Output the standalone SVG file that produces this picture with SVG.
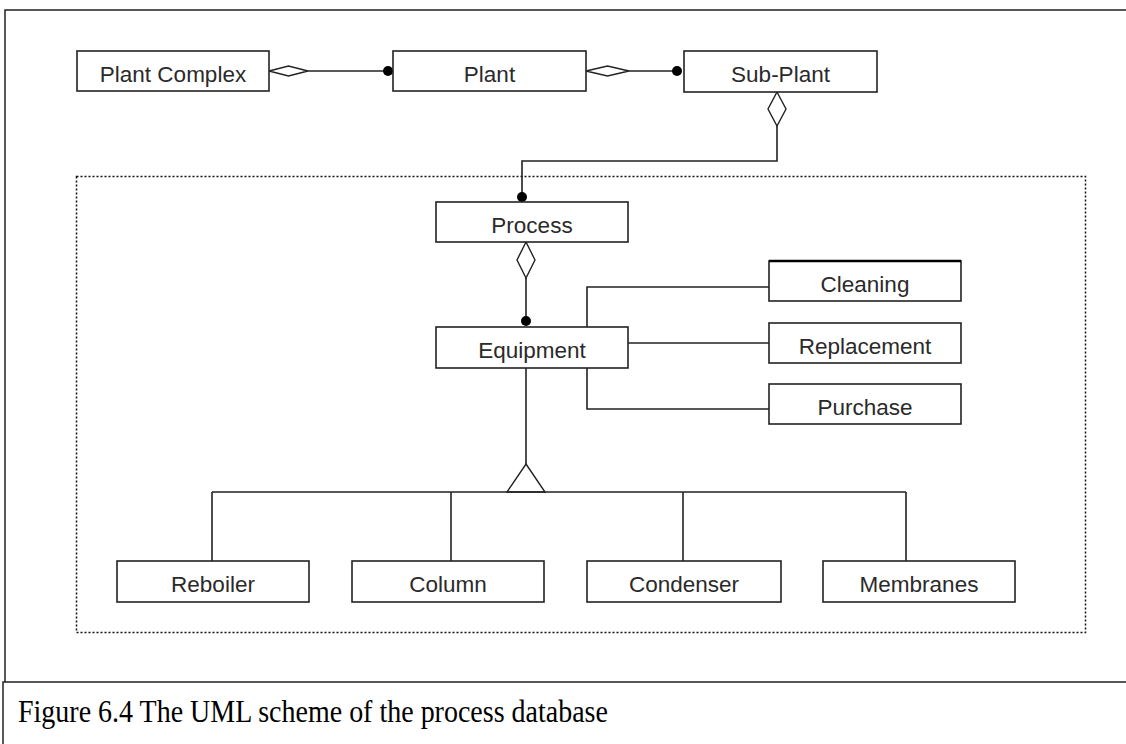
<svg xmlns="http://www.w3.org/2000/svg" width="1126" height="744" viewBox="0 0 1126 744">
  <style>
    .box { fill: #fff; stroke: #222; stroke-width: 1.6; }
    .lbl { font-family: "Liberation Sans", Arial, sans-serif; font-size: 22.5px; fill: #2a2a2a; text-anchor: middle; }
    .ln { fill: none; stroke: #222; stroke-width: 1.6; }
    .agg { fill: #fff; stroke: #222; stroke-width: 1.4; }
    .dot { fill: #000; }
    .frame { fill: none; stroke: #222; stroke-width: 1.5; }
    .pkg { fill: none; stroke: #111; stroke-width: 1.5; stroke-dasharray: 2 2; }
    .cap { font-family: "Liberation Serif", "Times New Roman", serif; font-size: 28px; fill: #000; }
  </style>

  <!-- page frame and caption cell -->
  <rect x="0" y="0" width="1126" height="744" fill="#fff"/>
  <path class="frame" d="M1130 10 H5 V682"/>
  <path class="frame" d="M1130 682 H3 V750"/>
  <text class="cap" x="18" y="722" transform="translate(0 -72.2) scale(1 1.1)">Figure 6.4 The UML scheme of the process database</text>

  <!-- dotted package around the process part -->
  <rect class="pkg" x="76.5" y="176.5" width="1009" height="456"/>

  <!-- connectors -->
  <g id="connectors">
    <!-- Plant Complex aggregates Plant -->
    <path class="ln" d="M308 71 H387"/>
    <path class="agg" d="M269 71 L288.5 66 L308 71 L288.5 76 Z"/>
    <circle class="dot" cx="388" cy="71" r="5"/>
    <!-- Plant aggregates Sub-Plant -->
    <path class="ln" d="M629 71 H675"/>
    <path class="agg" d="M586 71 L607.5 66 L629 71 L607.5 76 Z"/>
    <circle class="dot" cx="677" cy="71" r="5"/>
    <!-- Sub-Plant aggregates Process -->
    <path class="ln" d="M777 126 V161 H522 V196"/>
    <path class="agg" d="M777 92 L786 109 L777 126 L768 109 Z"/>
    <circle class="dot" cx="522" cy="197" r="5"/>
    <!-- Process aggregates Equipment -->
    <path class="ln" d="M526 278 V320"/>
    <path class="agg" d="M526 242 L535 260 L526 278 L517 260 Z"/>
    <circle class="dot" cx="526" cy="321" r="5"/>
    <!-- Equipment associations -->
    <path class="ln" d="M587 327 V287 H769"/>
    <path class="ln" d="M628 343 H769"/>
    <path class="ln" d="M587 368 V409 H769"/>
    <!-- Equipment generalisation -->
    <path class="ln" d="M526 368 V464"/>
    <path class="agg" d="M526 464 L545 492 L507 492 Z"/>
    <path class="ln" d="M212 492 H906"/>
    <path class="ln" d="M212 492 V561 M451 492 V561 M683 492 V561 M906 492 V561"/>
  </g>

  <g id="plant-complex">
    <rect class="box" x="77" y="51" width="192" height="40"/>
    <text class="lbl" x="173" y="82">Plant Complex</text>
  </g>
  <g id="plant">
    <rect class="box" x="393" y="51" width="193" height="40"/>
    <text class="lbl" x="489.5" y="82">Plant</text>
  </g>
  <g id="sub-plant">
    <rect class="box" x="684" y="51" width="193" height="41"/>
    <text class="lbl" x="780.5" y="82">Sub-Plant</text>
  </g>
  <g id="process">
    <rect class="box" x="436" y="202" width="192" height="40"/>
    <text class="lbl" x="532" y="233">Process</text>
  </g>
  <g id="equipment">
    <rect class="box" x="436" y="327" width="192" height="41"/>
    <text class="lbl" x="532" y="358">Equipment</text>
  </g>
  <g id="cleaning">
    <rect class="box" x="769" y="261" width="192" height="40"/>
    <path d="M769 261 H961" stroke="#000" stroke-width="2.6"/>
    <text class="lbl" x="865" y="292">Cleaning</text>
  </g>
  <g id="replacement">
    <rect class="box" x="769" y="323" width="192" height="40"/>
    <text class="lbl" x="865" y="354">Replacement</text>
  </g>
  <g id="purchase">
    <rect class="box" x="769" y="384" width="192" height="40"/>
    <text class="lbl" x="865" y="415">Purchase</text>
  </g>
  <g id="reboiler">
    <rect class="box" x="117" y="561" width="192" height="41"/>
    <text class="lbl" x="213" y="592">Reboiler</text>
  </g>
  <g id="column">
    <rect class="box" x="352" y="561" width="192" height="41"/>
    <text class="lbl" x="448" y="592">Column</text>
  </g>
  <g id="condenser">
    <rect class="box" x="587" y="561" width="194" height="41"/>
    <text class="lbl" x="684" y="592">Condenser</text>
  </g>
  <g id="membranes">
    <rect class="box" x="823" y="561" width="192" height="41"/>
    <text class="lbl" x="919" y="592">Membranes</text>
  </g>
</svg>
